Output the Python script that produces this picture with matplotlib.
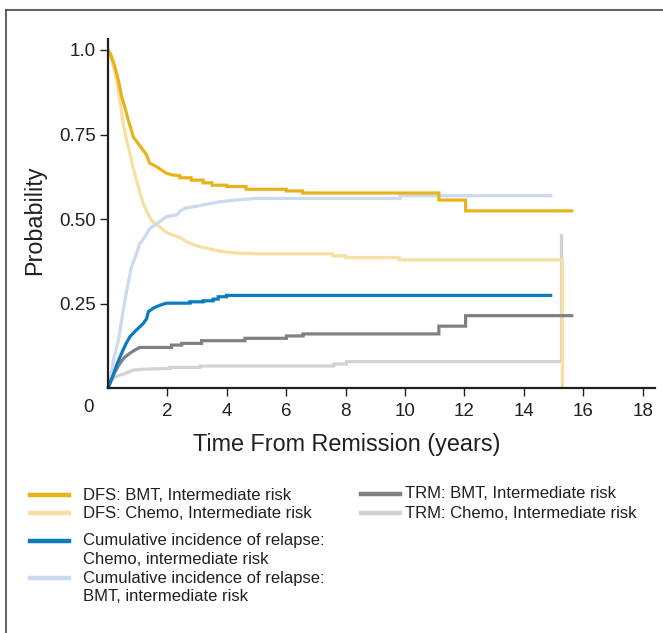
import matplotlib
matplotlib.use("Agg")
import matplotlib.pyplot as plt
from matplotlib.lines import Line2D

# ---------------- data (polyline vertices) ----------------
dfs_bmt_x = [0, 0.1, 0.23, 0.35, 0.46, 0.57, 0.68, 0.78, 0.85, 1.0, 1.18, 1.3, 1.4, 1.63, 1.8,
             1.97, 2.2, 2.42, 2.42, 2.8, 2.8, 3.2, 3.2, 3.5, 3.5, 4.0, 4.0, 4.65, 4.65, 6.0, 6.0,
             6.55, 6.55, 11.14, 11.14, 12.04, 12.04, 15.67]
dfs_bmt_y = [1.0, 0.985, 0.951, 0.91, 0.862, 0.83, 0.793, 0.765, 0.743, 0.725, 0.704, 0.69, 0.665,
             0.655, 0.645, 0.635, 0.63, 0.628, 0.622, 0.622, 0.615, 0.615, 0.607, 0.607, 0.60,
             0.60, 0.596, 0.596, 0.588, 0.588, 0.583, 0.583, 0.577, 0.577, 0.556, 0.556, 0.524,
             0.524]

dfs_chemo_x = [0, 0.1, 0.2, 0.29, 0.4, 0.51, 0.62, 0.74, 0.85, 0.96, 1.07, 1.18, 1.32, 1.46, 1.6,
               1.74, 1.88, 2.02, 2.2, 2.42, 2.64, 2.85, 3.09, 3.4, 3.76, 4.2, 4.99, 7.56, 7.56,
               8.0, 8.0, 9.8, 9.8, 15.3, 15.3]
dfs_chemo_y = [1.0, 0.975, 0.945, 0.911, 0.85, 0.783, 0.735, 0.694, 0.65, 0.615, 0.58, 0.546, 0.52,
               0.497, 0.485, 0.477, 0.466, 0.458, 0.452, 0.445, 0.433, 0.425, 0.418, 0.412, 0.405,
               0.40, 0.397, 0.397, 0.391, 0.391, 0.386, 0.386, 0.379, 0.379, 0.0]

cir_bmt_x = [0, 0.07, 0.2, 0.35, 0.46, 0.57, 0.68, 0.79, 0.93, 1.07, 1.19, 1.41, 1.69, 1.97, 2.31,
             2.45, 2.59, 2.99, 3.4, 3.77, 4.3, 5.0, 9.83, 9.83, 14.96]
cir_bmt_y = [0.0, 0.024, 0.09, 0.142, 0.2, 0.26, 0.31, 0.359, 0.39, 0.428, 0.44, 0.472, 0.489,
             0.507, 0.512, 0.525, 0.532, 0.538, 0.545, 0.551, 0.556, 0.561, 0.561, 0.569, 0.569]

cir_chemo_x = [0, 0.12, 0.3, 0.46, 0.6, 0.74, 0.96, 1.19, 1.3, 1.36, 1.52, 1.75, 1.97, 2.76, 2.76,
               3.2, 3.2, 3.54, 3.54, 3.71, 3.71, 3.99, 3.99, 14.96]
cir_chemo_y = [0.0, 0.024, 0.07, 0.103, 0.13, 0.152, 0.172, 0.191, 0.205, 0.226, 0.236, 0.245,
               0.251, 0.251, 0.255, 0.255, 0.258, 0.258, 0.263, 0.263, 0.27, 0.27, 0.274, 0.274]

trm_bmt_x = [0, 0.07, 0.25, 0.4, 0.55, 0.74, 0.9, 1.07, 2.14, 2.14, 2.48, 2.48, 3.15, 3.15, 4.61,
             4.61, 6.01, 6.01, 6.57, 6.57, 11.14, 11.14, 12.04, 12.04, 15.67]
trm_bmt_y = [0.0, 0.019, 0.05, 0.073, 0.09, 0.103, 0.112, 0.12, 0.12, 0.127, 0.127, 0.132, 0.132,
             0.140, 0.140, 0.147, 0.147, 0.154, 0.154, 0.160, 0.160, 0.183, 0.183, 0.214, 0.214]

trm_chemo_x = [0, 0.07, 0.3, 0.52, 0.85, 1.3, 2.09, 2.09, 3.1, 3.1, 7.6, 7.6, 8.03, 8.03, 15.27,
               15.27]
trm_chemo_y = [0.0, 0.024, 0.035, 0.041, 0.053, 0.056, 0.058, 0.061, 0.061, 0.065, 0.065, 0.071,
               0.071, 0.078, 0.078, 0.455]

x_ticks = [2, 4, 6, 8, 10, 12, 14, 16, 18]
y_ticks = [0.25, 0.50, 0.75, 1.0]
y_tick_labels = ["0.25", "0.50", "0.75", "1.0"]

legend_left = [["DFS: BMT, Intermediate risk"],
               ["DFS: Chemo, Intermediate risk"],
               ["Cumulative incidence of relapse:", "Chemo, intermediate risk"],
               ["Cumulative incidence of relapse:", "BMT, intermediate risk"]]
legend_right = [["TRM: BMT, Intermediate risk"],
                ["TRM: Chemo, Intermediate risk"]]

# ---------------- style ----------------
C_DFS_BMT = "#E9B21C"
C_DFS_CHEMO = "#F6DFA2"
C_CIR_CHEMO = "#0B7BC1"
C_CIR_BMT = "#CBDAEE"
C_TRM_BMT = "#808084"
C_TRM_CHEMO = "#D2D2D2"
AX_COL = "#231F20"
FONT = ["Liberation Sans", "DejaVu Sans"]

W, H = 663, 633
fig = plt.figure(figsize=(W / 100, H / 100), dpi=100)


def fx(px):
    return px / W


def fy(py):
    return 1 - py / H


ax = fig.add_axes([fx(108), fy(388), fx(655) - fx(108), fy(39) - fy(388)])

lw = 2.3
series = [
    (trm_chemo_x, trm_chemo_y, C_TRM_CHEMO),
    (dfs_chemo_x, dfs_chemo_y, C_DFS_CHEMO),
    (cir_bmt_x, cir_bmt_y, C_CIR_BMT),
    (trm_bmt_x, trm_bmt_y, C_TRM_BMT),
    (cir_chemo_x, cir_chemo_y, C_CIR_CHEMO),
    (dfs_bmt_x, dfs_bmt_y, C_DFS_BMT),
]
for xs, ys, c in series:
    ax.plot(xs, ys, color=c, lw=lw, solid_joinstyle="miter", solid_capstyle="butt",
            clip_on=False)

ax.set_xlim(0, (655 - 108) / 29.7)
ax.set_ylim(0, (388 - 39) / 338)

for s in ["top", "right"]:
    ax.spines[s].set_visible(False)
for s in ["left", "bottom"]:
    ax.spines[s].set_color(AX_COL)
    ax.spines[s].set_linewidth(1.6)

tick_font = {"family": FONT, "size": 13.5}
ax.set_xticks(x_ticks)
ax.set_xticklabels([str(x) for x in x_ticks], fontdict=tick_font, color=AX_COL)
ax.set_yticks(y_ticks)
ax.set_yticklabels(y_tick_labels, fontdict=tick_font, color=AX_COL)
ax.tick_params(axis="both", direction="out", length=5.5, width=1.0, color=AX_COL)
ax.tick_params(axis="x", pad=5)
ax.tick_params(axis="y", pad=3.5)

# corner zero label
fig.text(fx(89), fy(408), "0", ha="center", va="center", color=AX_COL,
         family=FONT, fontsize=13.5)

label_font = dict(family=FONT, fontsize=16.8, color=AX_COL)
fig.text(fx(347), fy(445), "Time From Remission (years)", ha="center", va="center", **label_font)
fig.text(fx(35), fy(220), "Probability", ha="center", va="center", rotation=90, **label_font)

# legend (manual)
leg_font = dict(family=FONT, fontsize=12, color=AX_COL)
left_rows = [(495, C_DFS_BMT), (513, C_DFS_CHEMO), (541, C_CIR_CHEMO), (578, C_CIR_BMT)]
for (y, c), lines in zip(left_rows, legend_left):
    fig.add_artist(Line2D([fx(30), fx(69)], [fy(y), fy(y)], color=c, lw=3.2))
    for k, txt in enumerate(lines):
        fig.text(fx(83), fy(y + 18.5 * k), txt, ha="left", va="center", **leg_font)
right_rows = [(494, C_TRM_BMT), (513, C_TRM_CHEMO)]
for (y, c), lines in zip(right_rows, legend_right):
    fig.add_artist(Line2D([fx(361), fx(400)], [fy(y), fy(y)], color=c, lw=3.2))
    fig.text(fx(405), fy(y), lines[0], ha="left", va="center", **leg_font)

# frame around figure (top and left edges visible)
fig.add_artist(Line2D([fx(6), 1], [fy(10), fy(10)], color="#444444", lw=1.2))
fig.add_artist(Line2D([fx(6), fx(6)], [0, fy(10)], color="#444444", lw=1.2))

fig.savefig("out.png", dpi=100)
